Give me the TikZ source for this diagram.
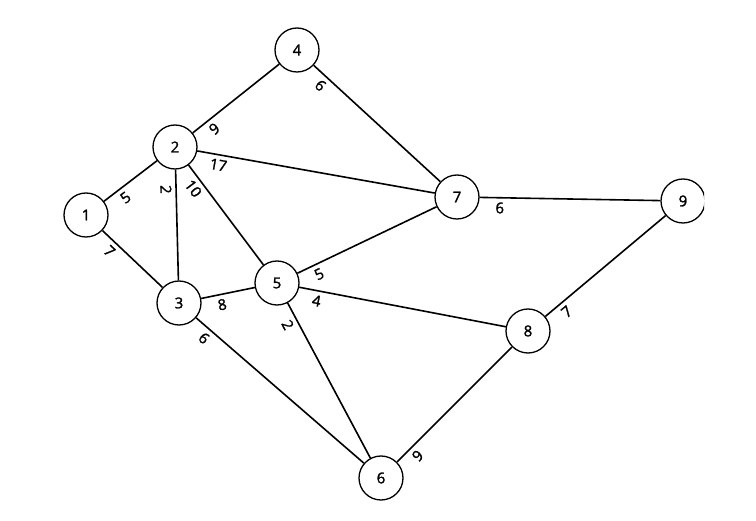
\documentclass[tikz,border=0pt]{standalone}
\usepackage{fontspec}
\setmainfont{Open Sans}
\newfontfamily\digitfont{Open Sans}[FakeBold=1.6]
\tikzset{
  vertex/.style={circle, draw, line width=1.3pt, minimum size=44pt, inner sep=0pt, font=\digitfont\fontsize{15}{18}\selectfont},
  edge/.style={line width=1.6pt},
  elabel/.style={sloped, anchor=north, inner sep=4.5pt, font=\digitfont\fontsize{15}{18}\selectfont}
}
\newcommand\edgelab[4]{\path (#1.center) -- (#2.center) node[elabel, pos=#3] {#4};}
\begin{document}
\begin{tikzpicture}[x=1pt, y=-1pt]
\useasboundingbox (0,0) rectangle (756,521);
\clip (0,0) rectangle (704,521);
\node[vertex] (n1) at (86,215) {1};
\node[vertex] (n2) at (175,147) {2};
\node[vertex] (n3) at (179,303) {3};
\node[vertex] (n4) at (297,50) {4};
\node[vertex] (n5) at (277,283) {5};
\node[vertex] (n6) at (381,478) {6};
\node[vertex] (n7) at (457,197) {7};
\node[vertex] (n8) at (528,331) {8};
\node[vertex] (n9) at (683,201) {9};
\draw[edge] (n1) -- (n2);
\draw[edge] (n1) -- (n3);
\draw[edge] (n2) -- (n3);
\draw[edge] (n2) -- (n4);
\draw[edge] (n2) -- (n5);
\draw[edge] (n2) -- (n7);
\draw[edge] (n3) -- (n5);
\draw[edge] (n3) -- (n6);
\draw[edge] (n4) -- (n7);
\draw[edge] (n5) -- (n6);
\draw[edge] (n5) -- (n7);
\draw[edge] (n5) -- (n8);
\draw[edge] (n6) -- (n8);
\draw[edge] (n7) -- (n9);
\draw[edge] (n8) -- (n9);
\edgelab{n1}{n2}{0.375}{5}
\edgelab{n1}{n3}{0.328}{7}
\edgelab{n2}{n3}{0.27}{2}
\edgelab{n2}{n4}{0.27}{9}
\edgelab{n2}{n5}{0.26}{10}
\edgelab{n2}{n7}{0.16}{17}
\edgelab{n3}{n5}{0.42}{8}
\edgelab{n3}{n6}{0.157}{6}
\edgelab{n4}{n7}{0.19}{6}
\edgelab{n5}{n6}{0.19}{2}
\edgelab{n5}{n7}{0.21}{5}
\edgelab{n5}{n8}{0.165}{4}
\edgelab{n6}{n8}{0.2}{9}
\edgelab{n7}{n9}{0.19}{6}
\edgelab{n8}{n9}{0.208}{7}
\end{tikzpicture}
\end{document}
